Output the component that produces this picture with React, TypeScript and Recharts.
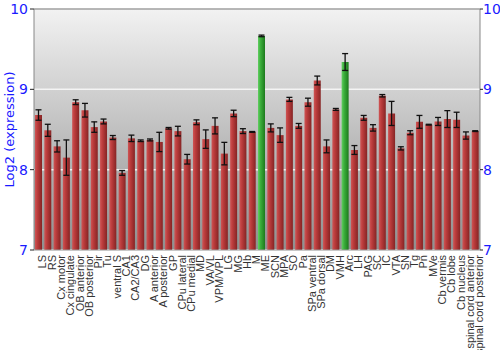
import React from "react";
import {
  Bar,
  CartesianGrid,
  Cell,
  ComposedChart,
  ErrorBar,
  Line,
  ReferenceLine,
  XAxis,
  YAxis,
} from "recharts";

const regions = [
  "LS", "RS", "Cx motor", "Cx cingulate", "OB anterior", "OB posterior", "Pir", "Tu",
  "ventral S", "CA1", "CA2/CA3", "DG", "A anterior", "A posterior", "GP", "CPu lateral",
  "CPu medial", "MD", "VA/VL", "VPM/VPL", "LG", "MG", "Hb", "M", "ME", "SCN", "MPA", "SO",
  "Pa", "SPa ventral", "SPa dorsal", "DM", "VMH", "Arc", "LH", "PAG", "SC", "IC", "VTA",
  "SN", "Tg", "Pn", "MVe", "Cb vermis", "Cb lobe", "Cb nucleus", "spinal cord anterior",
  "spinal cord posterior",
];

const expression = [
  8.68, 8.49, 8.29, 8.15, 8.84, 8.74, 8.53, 8.6, 8.4, 7.96, 8.39, 8.36, 8.37, 8.345, 8.515,
  8.48, 8.13, 8.59, 8.38, 8.545, 8.2, 8.7, 8.48, 8.47, 9.665, 8.52, 8.43, 8.875, 8.545, 8.84,
  9.11, 8.29, 8.75, 9.34, 8.245, 8.645, 8.52, 8.92, 8.7, 8.265, 8.46, 8.595, 8.56, 8.6, 8.63,
  8.62, 8.425, 8.48,
];

const stdErr = [
  0.065, 0.075, 0.07, 0.22, 0.03, 0.085, 0.065, 0.03, 0.025, 0.03, 0.04, 0.01, 0.012, 0.12,
  0.01, 0.06, 0.06, 0.03, 0.115, 0.1, 0.14, 0.04, 0.03, 0.005, 0.01, 0.05, 0.09, 0.025, 0.03,
  0.05, 0.055, 0.08, 0.012, 0.105, 0.055, 0.03, 0.04, 0.015, 0.15, 0.02, 0.025, 0.08, 0.005,
  0.05, 0.105, 0.095, 0.045, 0.005,
];

const highlighted = ["ME", "Arc"];
const yTicks = [7, 8, 9, 10];

const data = regions.map((name, i) => ({ name, v: expression[i], err: stdErr[i] }));

const blue = "#1a1aff";
const tickFont = { fontSize: 14, fill: blue, fontFamily: "DejaVu Sans, sans-serif" };

export default function App() {
  return (
    <div style={{ position: "absolute", left: 0, top: 0, width: 500, height: 350, background: "#fff" }}>
      <ComposedChart
        width={500}
        height={350}
        data={data}
        margin={{ top: 9, right: 0, bottom: 0, left: 0 }}
        barCategoryGap={1}
      >
        <defs>
          <linearGradient id="bg" x1="0" y1="0" x2="0" y2="1">
            <stop offset="0%" stopColor="#f2f2f2" />
            <stop offset="100%" stopColor="#8f8f8f" />
          </linearGradient>
          <linearGradient id="red" x1="0" y1="0" x2="1" y2="0">
            <stop offset="0%" stopColor="#cf5555" />
            <stop offset="35%" stopColor="#bb3c3c" />
            <stop offset="100%" stopColor="#862424" />
          </linearGradient>
          <linearGradient id="green" x1="0" y1="0" x2="1" y2="0">
            <stop offset="0%" stopColor="#62cf62" />
            <stop offset="35%" stopColor="#3caf3c" />
            <stop offset="100%" stopColor="#1c7a1c" />
          </linearGradient>
        </defs>
        <CartesianGrid
          yAxisId="l"
          vertical={false}
          fill="url(#bg)"
          fillOpacity={1}
          stroke="#f4f4f4"
          strokeWidth={1.5}
        />
        <ReferenceLine yAxisId="l" y={10} stroke="#777" />
        <XAxis
          dataKey="name"
          interval={0}
          angle={-90}
          textAnchor="end"
          tickLine={false}
          axisLine={{ stroke: "#999" }}
          height={100}
          tick={{ fontSize: 11, fill: "#333", fontFamily: "Liberation Sans, Arial, sans-serif", dy: -3 }}
          tickMargin={2}
        />
        <YAxis
          yAxisId="l"
          domain={[7, 10]}
          ticks={yTicks}
          width={34}
          axisLine={{ stroke: "#888" }}
          tickLine={{ stroke: "#222" }}
          tickSize={4}
          tick={tickFont}
          label={{
            value: "Log2 (expression)",
            angle: -90,
            position: "insideLeft",
            offset: 9,
            style: { textAnchor: "middle", fill: blue, fontSize: 13, fontFamily: "DejaVu Sans, sans-serif" },
          }}
        />
        <YAxis
          yAxisId="r"
          orientation="right"
          domain={[7, 10]}
          ticks={yTicks}
          width={20}
          axisLine={{ stroke: "#888" }}
          tickLine={{ stroke: "#222" }}
          tickSize={3}
          tickMargin={0}
          tick={tickFont}
        />
        <Bar yAxisId="l" dataKey="v" isAnimationActive={false}>
          {data.map((d) => (
            <Cell key={d.name} fill={highlighted.includes(d.name) ? "url(#green)" : "url(#red)"} />
          ))}
          <ErrorBar dataKey="err" width={3} stroke="#111" strokeWidth={1.3} />
        </Bar>
        <Line
          yAxisId="r"
          dataKey="v"
          stroke="none"
          strokeOpacity={0}
          dot={false}
          activeDot={false}
          legendType="none"
          isAnimationActive={false}
        />
      </ComposedChart>
    </div>
  );
}
